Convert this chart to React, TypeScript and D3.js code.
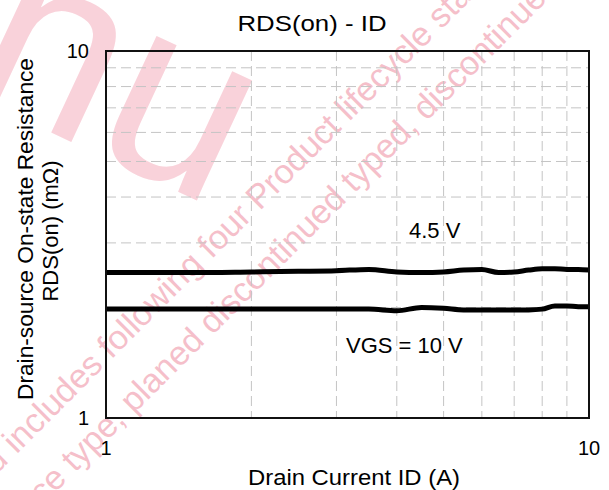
import React from 'react';
import * as d3 from 'd3';

// drain current (A) sample points
const currentA = [1, 1.5, 2, 2.5, 3, 3.5, 4, 4.5, 5, 5.5, 6, 6.5, 7, 7.5, 8, 8.5, 9, 9.5, 10];
// RDS(on) in mOhm
const rds45V = [2.49, 2.49, 2.5, 2.51, 2.52, 2.54, 2.5, 2.49, 2.5, 2.53, 2.54, 2.49, 2.5, 2.53, 2.55, 2.55, 2.54, 2.54, 2.53];
const rds10V = [1.98, 1.98, 1.98, 1.98, 1.98, 1.98, 1.96, 2.0, 1.99, 1.97, 1.97, 1.97, 1.97, 1.97, 1.98, 2.02, 2.02, 2.01, 2.01];

const xTicks = [1, 10];
const yTicks = [1, 10];
const gridValues = [2, 3, 4, 5, 6, 7, 8, 9];

const watermarkLines = [
  'ed includes following four Product lifecycle stages',
  'formance type, planed discontinued typed, discontinued',
];

const FONT = '"Liberation Sans", Arial, sans-serif';

export default function App() {
  const width = 609;
  const height = 490;
  const left = 106;
  const right = 589;
  const top = 51;
  const bottom = 418;

  const x = d3.scaleLog().domain([1, 10]).range([left, right]);
  const y = d3.scaleLog().domain([1, 10]).range([bottom, top]);

  const line = d3
    .line<number>()
    .x((d, i) => x(currentA[i]))
    .y((d) => y(d))
    .curve(d3.curveMonotoneX);

  return (
    <svg
      width={width}
      height={height}
      style={{ position: 'absolute', left: 0, top: 0, background: '#fff' }}
      fontFamily={FONT}
    >
      {/* watermark */}
      <text fontSize={250} fill="#f9d2da" transform="translate(-40,90) rotate(25)">
        nu
      </text>
      <g fill="#f5bfca">
        <text fontSize={34} transform="translate(-17,488) rotate(-45)">
          {watermarkLines[0]}
        </text>
        <text fontSize={34} transform="translate(-32,580) rotate(-45)">
          {watermarkLines[1]}
        </text>
      </g>

      {/* grid */}
      <g stroke="#c4c4c4" strokeWidth={1} strokeDasharray="10,5">
        {gridValues.map((v) => (
          <line key={'v' + v} x1={x(v)} x2={x(v)} y1={top} y2={bottom} />
        ))}
        {gridValues.map((v) => (
          <line key={'h' + v} x1={left} x2={right} y1={y(v)} y2={y(v)} />
        ))}
      </g>

      {/* curves */}
      <g fill="none" stroke="#000" strokeWidth={5} strokeLinejoin="round">
        <path d={line(rds45V) || ''} />
        <path d={line(rds10V) || ''} />
      </g>

      {/* frame */}
      <rect x={left} y={top} width={right - left} height={bottom - top} fill="none" stroke="#111" strokeWidth={2} />

      {/* tick labels */}
      <g fontSize={20} fill="#000">
        {yTicks.map((v) => (
          <text key={'y' + v} x={89} y={y(v) + 7} textAnchor="end">
            {v}
          </text>
        ))}
        {xTicks.map((v) => (
          <text key={'x' + v} x={x(v)} y={455} textAnchor="middle">
            {v}
          </text>
        ))}
      </g>

      {/* curve labels */}
      <g fontSize={22} fill="#000">
        <text x={409} y={238}>4.5 V</text>
        <text x={346} y={353}>VGS = 10 V</text>
      </g>

      {/* titles */}
      <text x={312} y={31} fontSize={22} textAnchor="middle" textLength={149} lengthAdjust="spacingAndGlyphs">
        RDS(on) - ID
      </text>
      <text x={354} y={485} fontSize={22} textAnchor="middle" textLength={212} lengthAdjust="spacingAndGlyphs">
        Drain Current ID (A)
      </text>
      <text transform="translate(33,229) rotate(-90)" fontSize={22} textAnchor="middle" textLength={342} lengthAdjust="spacingAndGlyphs">
        Drain-source On-state Resistance
      </text>
      <text transform="translate(58,231) rotate(-90)" fontSize={22} textAnchor="middle">
        RDS(on) (mΩ)
      </text>
    </svg>
  );
}
